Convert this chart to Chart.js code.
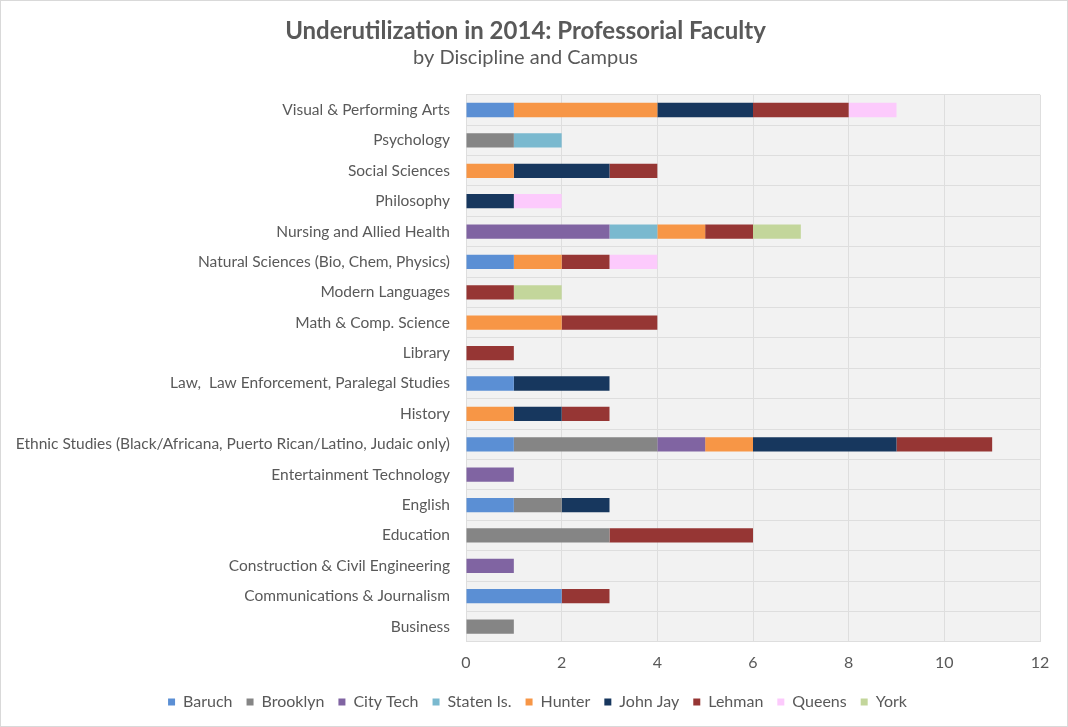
<!DOCTYPE html>
<html>
<head>
<meta charset="utf-8">
<script src="https://cdn.jsdelivr.net/npm/chart.js@4"></script>
<style>
  body { margin: 0; background: #fff; }
  #wrap { width: 1066px; height: 725px; border: 1px solid #d9d9d9; position: relative; }
</style>
</head>
<body>
<div id="wrap"><canvas id="underChart"></canvas></div>
<script>
// categories, top to bottom
const disciplines = [
    'Visual & Performing Arts',
    'Psychology',
    'Social Sciences',
    'Philosophy',
    'Nursing and Allied Health',
    'Natural Sciences (Bio, Chem, Physics)',
    'Modern Languages',
    'Math & Comp. Science',
    'Library',
    'Law,  Law Enforcement, Paralegal Studies',
    'History',
    'Ethnic Studies (Black/Africana, Puerto Rican/Latino, Judaic only)',
    'Entertainment Technology',
    'English',
    'Education',
    'Construction & Civil Engineering',
    'Communications & Journalism',
    'Business'
];

const baruch    = [1, 0, 0, 0, 0, 1, 0, 0, 0, 1, 0, 1, 0, 1, 0, 0, 2, 0];
const brooklyn  = [0, 1, 0, 0, 0, 0, 0, 0, 0, 0, 0, 3, 0, 1, 3, 0, 0, 1];
const cityTech  = [0, 0, 0, 0, 3, 0, 0, 0, 0, 0, 0, 1, 1, 0, 0, 1, 0, 0];
const statenIs  = [0, 1, 0, 0, 1, 0, 0, 0, 0, 0, 0, 0, 0, 0, 0, 0, 0, 0];
const hunter    = [3, 0, 1, 0, 1, 1, 0, 2, 0, 0, 1, 1, 0, 0, 0, 0, 0, 0];
const johnJay   = [2, 0, 2, 1, 0, 0, 0, 0, 0, 2, 1, 3, 0, 1, 0, 0, 0, 0];
const lehman    = [2, 0, 1, 0, 1, 1, 1, 2, 1, 0, 1, 2, 0, 0, 3, 0, 1, 0];
const queens    = [1, 0, 0, 1, 0, 1, 0, 0, 0, 0, 0, 0, 0, 0, 0, 0, 0, 0];
const york      = [0, 0, 0, 0, 1, 0, 1, 0, 0, 0, 0, 0, 0, 0, 0, 0, 0, 0];

const xTicks = [0, 2, 4, 6, 8, 10, 12];

const textGray = '#595959';
const fontFamily = 'Lato, "Open Sans", sans-serif';

// gray plot area like the original
const plotBackground = {
    id: 'plotBackground',
    beforeDraw(chart) {
        const { ctx, chartArea: a } = chart;
        ctx.save();
        ctx.fillStyle = '#f2f2f2';
        ctx.fillRect(a.left, a.top, a.right - a.left, a.bottom - a.top);
        ctx.restore();
    }
};

// legend sits a bit right of centre in the original
const legendNudge = {
    id: 'legendNudge',
    afterLayout(chart) {
        chart.legend.left += 12;
        chart.legend.right += 12;
    }
};

function series(label, data, color) {
    return {
        label: label,
        data: data,
        backgroundColor: color,
        borderWidth: 0,
        barPercentage: 0.47,
        categoryPercentage: 1
    };
}

const ctx = document.getElementById('underChart').getContext('2d');

new Chart(ctx, {
    type: 'bar',
    data: {
        labels: disciplines,
        datasets: [
            series('Baruch', baruch, '#5b8fd4'),
            series('Brooklyn', brooklyn, '#858585'),
            series('City Tech', cityTech, '#8064a2'),
            series('Staten Is.', statenIs, '#7ab9cf'),
            series('Hunter', hunter, '#f79646'),
            series('John Jay', johnJay, '#17375e'),
            series('Lehman', lehman, '#963634'),
            series('Queens', queens, '#fccafc'),
            series('York', york, '#c3d69b')
        ]
    },
    plugins: [plotBackground, legendNudge],
    options: {
        indexAxis: 'y',
        responsive: true,
        maintainAspectRatio: false,
        animation: false,
        layout: { padding: { left: 10, right: 27, top: 4, bottom: 6 } },
        scales: {
            x: {
                stacked: true,
                min: 0,
                max: 12,
                afterBuildTicks(axis) { axis.ticks = xTicks.map(v => ({ value: v })); },
                afterFit(axis) { axis.height -= 3; },
                grid: { color: '#dedede', drawTicks: false },
                border: { display: false },
                ticks: { color: textGray, padding: 11, font: { family: fontFamily, size: 16 } }
            },
            y: {
                stacked: true,
                afterFit(axis) { axis.width = 455; },
                grid: { color: '#dedede', drawTicks: false, offset: true },
                border: { display: false },
                ticks: { color: textGray, padding: 16, font: { family: fontFamily, size: 15.5 } }
            }
        },
        plugins: {
            title: {
                display: true,
                text: 'Underutilization in 2014: Professorial Faculty',
                color: textGray,
                font: { family: fontFamily, size: 24, weight: 'bold' },
                padding: { top: 12, bottom: 0 }
            },
            subtitle: {
                display: true,
                text: 'by Discipline and Campus',
                color: textGray,
                font: { family: fontFamily, size: 20 },
                padding: { bottom: 25 }
            },
            legend: {
                position: 'bottom',
                labels: {
                    color: textGray,
                    boxWidth: 7,
                    boxHeight: 7,
                    padding: 14,
                    font: { family: fontFamily, size: 16 }
                }
            },
            tooltip: { enabled: false }
        }
    }
});
</script>
</body>
</html>
